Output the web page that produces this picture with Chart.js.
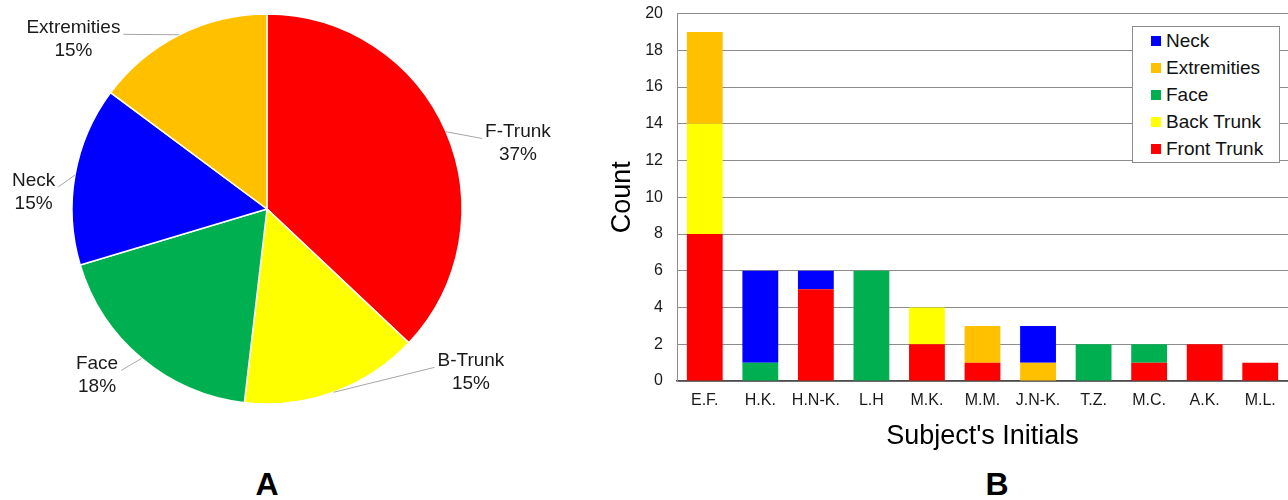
<!DOCTYPE html>
<html>
<head>
<meta charset="utf-8">
<script src="https://cdn.jsdelivr.net/npm/chart.js@4"></script>
<style>
  body { margin: 0; background: #fff; width: 1288px; height: 500px; overflow: hidden; position: relative; font-family: "Liberation Sans", Arial, sans-serif; }
  #pieBox { position: absolute; left: 0; top: 0; width: 600px; height: 418px; }
  #barBox { position: absolute; left: 596px; top: -10px; width: 692px; height: 470px; }
  .panel { position: absolute; top: 466px; font-weight: bold; font-size: 32px; color: #000; transform: translateX(-50%); }
  #legend { position: absolute; left: 1132px; top: 26px; width: 146px; height: 135px; border: 1px solid #8c8c8c; background: #fff; }
  #legend div { position: absolute; left: 18px; font-size: 19px; color: #111; line-height: 22px; }
  #legend span { display: inline-block; width: 10px; height: 10px; margin-right: 5px; vertical-align: 1px; }
</style>
</head>
<body>
<div id="pieBox"><canvas id="pie"></canvas></div>
<div id="barBox"><canvas id="bar"></canvas></div>
<div id="legend"></div>
<div class="panel" style="left:267px">A</div>
<div class="panel" style="left:997px">B</div>
<script>
// ---- data ----
const subjects = ["E.F.", "H.K.", "H.N-K.", "L.H", "M.K.", "M.M.", "J.N-K.", "T.Z.", "M.C.", "A.K.", "M.L."];
const frontTrunk  = [8, 0, 5, 0, 2, 1, 0, 0, 1, 2, 1];
const backTrunk   = [6, 0, 0, 0, 2, 0, 0, 0, 0, 0, 0];
const face        = [0, 1, 0, 6, 0, 0, 0, 2, 1, 0, 0];
const extremities = [5, 0, 0, 0, 0, 2, 1, 0, 0, 0, 0];
const neck        = [0, 5, 1, 0, 0, 0, 2, 0, 0, 0, 0];

const pieLabels   = ["F-Trunk", "B-Trunk", "Face", "Neck", "Extremities"];
const pieCounts   = [20, 8, 10, 8, 8];
const piePercents = ["37%", "15%", "18%", "15%", "15%"];   // as printed on the slices

const yTicks = [0, 2, 4, 6, 8, 10, 12, 14, 16, 18, 20];

// ---- styles ----
const RED = "#ff0000", YELLOW = "#ffff00", GREEN = "#00b050", BLUE = "#0000ff", ORANGE = "#ffc000";
const FONT = "'Liberation Sans', Arial, sans-serif";
// label placement around the pie (degrees off the slice middle, distance in radii)
const labelTurn = [8.7, -31.3, 5.6, -5.8, -22.1];
const labelDist = [1.33, 1.34, 1.22, 1.2, 1.32];

const pieLabelPlugin = {
  id: "pieLabels",
  afterDatasetsDraw(chart) {
    const ctx = chart.ctx;
    const meta = chart.getDatasetMeta(0);
    ctx.save();
    ctx.font = "19px " + FONT;
    ctx.fillStyle = "#1a1a1a";
    ctx.textAlign = "center";
    ctx.textBaseline = "middle";
    meta.data.forEach((arc, i) => {
      const p = arc.getProps(["x", "y", "startAngle", "endAngle", "outerRadius"], true);
      const mid = (p.startAngle + p.endAngle) / 2;
      const la = mid + labelTurn[i] * Math.PI / 180;
      const lx = p.x + Math.cos(la) * p.outerRadius * labelDist[i];
      const ly = p.y + Math.sin(la) * p.outerRadius * labelDist[i];
      const pct = piePercents[i];
      const w = Math.max(ctx.measureText(pieLabels[i]).width, ctx.measureText(pct).width);
      const sx = p.x + Math.cos(mid) * p.outerRadius;
      const sy = p.y + Math.sin(mid) * p.outerRadius;
      const ex = lx > p.x ? lx - w / 2 - 3 : lx + w / 2 + 3;
      const ey = ly - 5;
      ctx.strokeStyle = "#a6a6a6";
      ctx.lineWidth = 1;
      ctx.beginPath();
      ctx.moveTo(sx, sy);
      ctx.lineTo(ex, ey);
      ctx.stroke();
      ctx.fillText(pieLabels[i], lx, ly - 11.5);
      ctx.fillText(pct, lx, ly + 11.5);
    });
    ctx.restore();
  }
};

new Chart(document.getElementById("pie"), {
  type: "pie",
  data: {
    labels: pieLabels,
    datasets: [{
      data: pieCounts,
      backgroundColor: [RED, YELLOW, GREEN, BLUE, ORANGE],
      borderColor: "#ffffff",
      borderWidth: 1.5,
      radius: 195
    }]
  },
  options: {
    responsive: true,
    maintainAspectRatio: false,
    animation: false,
    layout: { padding: { left: 0, right: 66, top: 0, bottom: 0 } },
    plugins: { legend: { display: false }, tooltip: { enabled: false } }
  },
  plugins: [pieLabelPlugin]
});

const barSets = [
  { label: "Front Trunk", data: frontTrunk, backgroundColor: RED },
  { label: "Back Trunk", data: backTrunk, backgroundColor: YELLOW },
  { label: "Face", data: face, backgroundColor: GREEN },
  { label: "Extremities", data: extremities, backgroundColor: ORANGE },
  { label: "Neck", data: neck, backgroundColor: BLUE }
];

new Chart(document.getElementById("bar"), {
  type: "bar",
  data: {
    labels: subjects,
    datasets: barSets.map(s => Object.assign({ categoryPercentage: 1, barPercentage: 0.645 }, s))
  },
  options: {
    responsive: true,
    maintainAspectRatio: false,
    animation: false,
    layout: { padding: { left: 0, right: 0, top: 0, bottom: 3 } },
    plugins: { legend: { display: false }, tooltip: { enabled: false } },
    scales: {
      x: {
        stacked: true,
        grid: { display: false, drawTicks: false },
        border: { display: true, color: "#4d4d4d", width: 1.5 },
        ticks: { padding: 10, color: "#1a1a1a", font: { family: FONT, size: 16 }, maxRotation: 0, autoSkip: false },
        title: { display: true, text: "Subject's Initials", color: "#000", font: { family: FONT, size: 27 } },
        afterFit: s => { s.height = 76; }
      },
      y: {
        stacked: true,
        min: 0,
        max: 20,
        afterBuildTicks: s => { s.ticks = yTicks.map(v => ({ value: v })); },
        grid: { color: "#8c8c8c", lineWidth: 1, drawTicks: false },
        border: { display: true, color: "#8c8c8c" },
        ticks: { padding: 14, color: "#1a1a1a", font: { family: FONT, size: 16 } },
        title: { display: true, text: "Count", color: "#000", font: { family: FONT, size: 27 }, padding: { top: 10, bottom: 4 } },
        afterFit: s => { s.width = 81; }
      }
    }
  }
});

// legend (top to bottom is the reverse of the stacking order)
const legend = document.getElementById("legend");
barSets.slice().reverse().forEach((s, i) => {
  const row = document.createElement("div");
  row.style.top = (3 + i * 27) + "px";
  row.innerHTML = '<span style="background:' + s.backgroundColor + '"></span>' + s.label;
  legend.appendChild(row);
});
</script>
</body>
</html>
